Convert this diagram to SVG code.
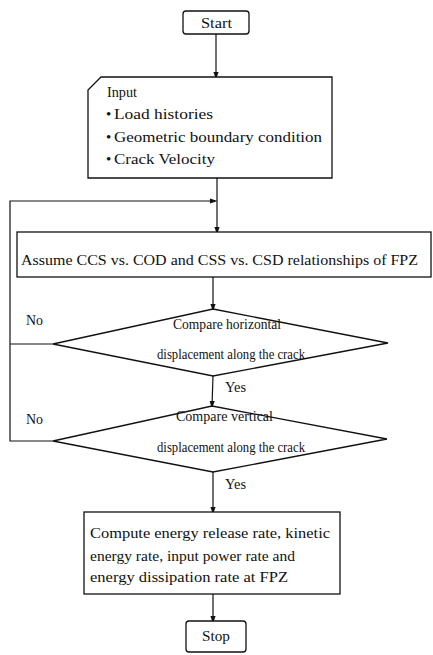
<svg xmlns="http://www.w3.org/2000/svg" width="433" height="655" viewBox="0 0 433 655">
<defs>
<style>
.box{fill:#fff;stroke:#111;stroke-width:1.3}
.ln{fill:none;stroke:#111;stroke-width:1.2}
text{font-family:"Liberation Serif","Times New Roman",serif;font-size:15px;fill:#111}
.d{font-size:14px}
.c{text-anchor:middle}
</style>
<marker id="ah" markerWidth="8" markerHeight="12" refX="8" refY="4" orient="auto" markerUnits="userSpaceOnUse" viewBox="0 0 12 8">
<path d="M0,0 L12,4 L0,8 Z" fill="#111"/>
</marker>
</defs>
<rect width="433" height="655" fill="#fff"/>
<g id="connectors">
<line class="ln" x1="216" y1="34" x2="216" y2="77" marker-end="url(#ah)"/>
<line class="ln" x1="217" y1="178" x2="217" y2="232" marker-end="url(#ah)"/>
<polyline class="ln" points="53,441 10,441 10,201 215,201" marker-end="url(#ah)"/>
<line class="ln" x1="53" y1="344" x2="10" y2="344"/>
<line class="ln" x1="213" y1="277" x2="213" y2="309" marker-end="url(#ah)"/>
<line class="ln" x1="213" y1="376" x2="212" y2="406" marker-end="url(#ah)"/>
<line class="ln" x1="213" y1="472" x2="213" y2="512" marker-end="url(#ah)"/>
<line class="ln" x1="213" y1="594" x2="213" y2="621" marker-end="url(#ah)"/>
<text x="26" y="325" textLength="17" lengthAdjust="spacingAndGlyphs">No</text>
<text x="26" y="424" textLength="17" lengthAdjust="spacingAndGlyphs">No</text>
<text x="225" y="392" textLength="21" lengthAdjust="spacingAndGlyphs">Yes</text>
<text x="225" y="489" textLength="21" lengthAdjust="spacingAndGlyphs">Yes</text>
</g>
<g id="start">
<rect class="box" x="183" y="11" width="66" height="23" rx="3"/>
<text x="201" y="28" textLength="31" lengthAdjust="spacingAndGlyphs">Start</text>
</g>
<g id="input">
<path class="box" d="M101,77 L332,77 L332,178 L88,178 L88,90 Z"/>
<text x="107" y="97" textLength="30" lengthAdjust="spacingAndGlyphs">Input</text>
<text x="106" y="119">•</text>
<text x="114" y="119" textLength="99" lengthAdjust="spacingAndGlyphs">Load histories</text>
<text x="106" y="142">•</text>
<text x="114" y="142" textLength="208" lengthAdjust="spacingAndGlyphs">Geometric boundary condition</text>
<text x="106" y="164">•</text>
<text x="114" y="164" textLength="101" lengthAdjust="spacingAndGlyphs">Crack Velocity</text>
</g>
<g id="assume">
<rect class="box" x="17" y="232" width="414" height="45"/>
<text x="21" y="265" textLength="397" lengthAdjust="spacingAndGlyphs">Assume CCS vs. COD and CSS vs. CSD relationships of FPZ</text>
</g>
<g id="compare-h">
<polygon class="box" points="213,309 388,343 213,376 53,344"/>
<text class="d" x="173" y="329" textLength="108" lengthAdjust="spacingAndGlyphs">Compare horizontal</text>
<text class="d" x="157" y="359" textLength="148" lengthAdjust="spacingAndGlyphs">displacement along the crack</text>
</g>
<g id="compare-v">
<polygon class="box" points="212,406 387,439 213,472 53,441"/>
<text class="d" x="176" y="421" textLength="97" lengthAdjust="spacingAndGlyphs">Compare vertical</text>
<text class="d" x="157" y="452" textLength="148" lengthAdjust="spacingAndGlyphs">displacement along the crack</text>
</g>
<g id="compute">
<rect class="box" x="84" y="512" width="256" height="82"/>
<text x="90" y="538" textLength="240" lengthAdjust="spacingAndGlyphs">Compute energy release rate, kinetic</text>
<text x="90" y="561" textLength="205" lengthAdjust="spacingAndGlyphs">energy rate, input power rate and</text>
<text x="90" y="582" textLength="198" lengthAdjust="spacingAndGlyphs">energy dissipation rate at FPZ</text>
</g>
<g id="stop">
<rect class="box" x="186" y="621" width="60" height="31" rx="3"/>
<text x="202" y="641" textLength="28" lengthAdjust="spacingAndGlyphs">Stop</text>
</g>
</svg>
